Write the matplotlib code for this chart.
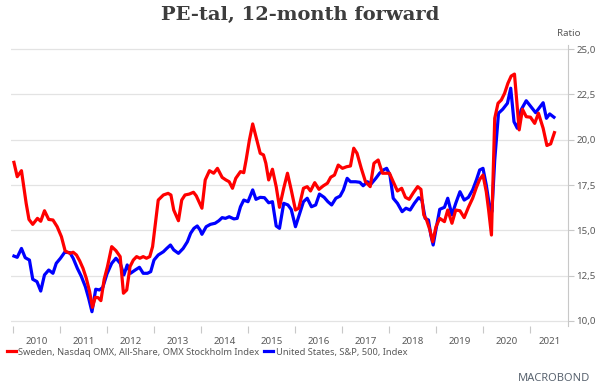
"""
PE-tal, 12-month forward: Sweden (OMX Stockholm) vs United States (S&P 500).
Values read off a Macrobond chart, dates as decimal years.
"""

import matplotlib
matplotlib.use("Agg")
import matplotlib.pyplot as plt
from matplotlib.ticker import FixedLocator, FuncFormatter

TITLE = "PE-tal, 12-month forward"
UNIT = "Ratio"
SWEDEN_LABEL = "Sweden, Nasdaq OMX, All-Share, OMX Stockholm Index"
US_LABEL = "United States, S&P, 500, Index"

sweden_dates = [
    2010.01, 2010.08, 2010.17, 2010.22, 2010.27, 2010.33, 2010.41, 2010.51, 2010.58, 2010.66,
    2010.75, 2010.84, 2010.93, 2011.02, 2011.10, 2011.20, 2011.27, 2011.34, 2011.41, 2011.48,
    2011.55, 2011.62, 2011.68, 2011.74, 2011.80, 2011.86, 2011.93, 2012.00, 2012.09, 2012.18,
    2012.27, 2012.34, 2012.41, 2012.48, 2012.55, 2012.62, 2012.69, 2012.76, 2012.83, 2012.90,
    2012.96, 2013.03, 2013.08, 2013.19, 2013.29, 2013.35, 2013.41, 2013.51, 2013.58, 2013.65,
    2013.74, 2013.83, 2013.89, 2014.01, 2014.08, 2014.17, 2014.26, 2014.34, 2014.44, 2014.52,
    2014.59, 2014.66, 2014.73, 2014.83, 2014.90, 2014.95, 2015.02, 2015.09, 2015.16, 2015.25,
    2015.32, 2015.37, 2015.43, 2015.51, 2015.59, 2015.66, 2015.75, 2015.83, 2015.91, 2016.00,
    2016.07, 2016.17, 2016.25, 2016.32, 2016.41, 2016.50, 2016.59, 2016.68, 2016.75, 2016.83,
    2016.91, 2017.00, 2017.09, 2017.17, 2017.24, 2017.31, 2017.40, 2017.49, 2017.59, 2017.67,
    2017.76, 2017.85, 2017.91, 2018.00, 2018.08, 2018.17, 2018.26, 2018.34, 2018.42, 2018.51,
    2018.60, 2018.67, 2018.73, 2018.79, 2018.86, 2018.92, 2018.99, 2019.07, 2019.17, 2019.24,
    2019.33, 2019.41, 2019.50, 2019.59, 2019.68, 2019.77, 2019.85, 2019.92, 2019.99, 2020.06,
    2020.11, 2020.17, 2020.24, 2020.31, 2020.38, 2020.45, 2020.52, 2020.59, 2020.66, 2020.76,
    2020.83, 2020.91, 2021.00, 2021.09, 2021.17, 2021.27, 2021.35, 2021.43, 2021.51,
]
sweden_pe = [
    18.75, 17.96, 18.29, 17.41, 16.49, 15.60, 15.33, 15.66, 15.50, 16.08,
    15.60, 15.57, 15.20, 14.65, 13.86, 13.73, 13.79, 13.64, 13.31, 12.90,
    12.35, 11.62, 10.75, 11.30, 11.29, 11.12, 12.30, 13.00, 14.10, 13.88,
    13.55, 11.53, 11.71, 13.00, 13.36, 13.55, 13.46, 13.55, 13.46, 13.55,
    14.10, 15.57, 16.67, 16.95, 17.04, 16.95, 16.12, 15.53, 16.67, 16.95,
    17.00, 17.10, 16.90, 16.22, 17.78, 18.29, 18.15, 18.42, 17.92, 17.78,
    17.68, 17.32, 17.87, 18.24, 18.18, 18.88, 19.98, 20.87, 20.17, 19.25,
    19.16, 18.70, 17.78, 18.37, 17.41, 16.27, 17.32, 18.15, 17.23, 16.12,
    16.22, 17.32, 17.41, 17.17, 17.63, 17.26, 17.45, 17.60, 17.93, 18.05,
    18.60, 18.42, 18.51, 18.55, 19.53, 19.25, 18.42, 17.68, 17.41, 18.70,
    18.88, 18.15, 18.15, 18.15, 17.68, 17.17, 17.32, 16.82, 16.71, 17.08,
    17.41, 17.26, 15.85, 15.57, 15.02, 14.37, 15.20, 15.66, 15.48, 16.12,
    15.39, 16.12, 16.08, 15.70, 16.27, 16.77, 17.37, 17.81, 18.05, 17.13,
    16.12, 14.74, 21.18, 22.01, 22.19, 22.56, 23.11, 23.51, 23.62, 20.54,
    21.68, 21.27, 21.24, 20.90, 21.46, 20.63, 19.68, 19.77, 20.39,
]

us_dates = [
    2010.01, 2010.08, 2010.17, 2010.25, 2010.34, 2010.41, 2010.50, 2010.58, 2010.66, 2010.75,
    2010.84, 2010.91, 2011.00, 2011.09, 2011.20, 2011.27, 2011.36, 2011.44, 2011.53, 2011.60,
    2011.67, 2011.75, 2011.83, 2011.90, 2011.99, 2012.09, 2012.18, 2012.27, 2012.35, 2012.42,
    2012.49, 2012.59, 2012.68, 2012.76, 2012.85, 2012.92, 2012.99, 2013.08, 2013.19, 2013.26,
    2013.34, 2013.41, 2013.51, 2013.61, 2013.70, 2013.77, 2013.84, 2013.91, 2013.97, 2014.01,
    2014.10, 2014.19, 2014.29, 2014.37, 2014.44, 2014.51, 2014.59, 2014.69, 2014.76, 2014.83,
    2014.90, 2014.99, 2015.09, 2015.16, 2015.25, 2015.34, 2015.43, 2015.51, 2015.59, 2015.66,
    2015.75, 2015.84, 2015.91, 2016.00, 2016.09, 2016.17, 2016.25, 2016.34, 2016.43, 2016.51,
    2016.61, 2016.69, 2016.77, 2016.86, 2016.95, 2017.02, 2017.10, 2017.17, 2017.28, 2017.37,
    2017.44, 2017.53, 2017.61, 2017.71, 2017.79, 2017.87, 2017.94, 2018.01, 2018.08, 2018.17,
    2018.27, 2018.35, 2018.44, 2018.53, 2018.62, 2018.69, 2018.76, 2018.83, 2018.88, 2018.93,
    2019.00, 2019.07, 2019.17, 2019.24, 2019.33, 2019.41, 2019.50, 2019.59, 2019.68, 2019.77,
    2019.85, 2019.92, 2019.99, 2020.06, 2020.13, 2020.18, 2020.24, 2020.32, 2020.41, 2020.51,
    2020.58, 2020.65, 2020.72, 2020.80, 2020.91, 2021.02, 2021.11, 2021.18, 2021.27, 2021.34,
    2021.41, 2021.50,
]
us_pe = [
    13.58, 13.51, 14.00, 13.49, 13.36, 12.30, 12.17, 11.65, 12.54, 12.81,
    12.63, 13.18, 13.46, 13.79, 13.77, 13.46, 12.90, 12.48, 11.89, 11.25,
    10.51, 11.75, 11.71, 11.85, 12.60, 13.18, 13.46, 13.18, 12.54, 13.09,
    12.63, 12.81, 12.96, 12.63, 12.63, 12.72, 13.36, 13.64, 13.82, 14.00,
    14.19, 13.92, 13.73, 14.00, 14.37, 14.84, 15.11, 15.24, 15.02, 14.78,
    15.20, 15.33, 15.39, 15.53, 15.70, 15.66, 15.75, 15.63, 15.66, 16.30,
    16.67, 16.58, 17.23, 16.71, 16.82, 16.80, 16.52, 16.58, 15.24, 15.11,
    16.49, 16.40, 16.15, 15.20, 15.94, 16.58, 16.77, 16.30, 16.40, 17.00,
    16.82, 16.58, 16.40, 16.77, 16.89, 17.23, 17.87, 17.68, 17.68, 17.65,
    17.46, 17.68, 17.56, 17.87, 18.15, 18.33, 18.42, 18.05, 16.77, 16.49,
    16.03, 16.22, 16.12, 16.49, 16.80, 16.67, 15.66, 15.57, 14.74, 14.19,
    15.20, 16.16, 16.27, 16.77, 15.85, 16.49, 17.13, 16.67, 16.82, 17.23,
    17.78, 18.33, 18.42, 17.50, 16.30, 16.03, 18.88, 21.46, 21.68, 22.01,
    22.84, 20.99, 20.63, 21.64, 22.15, 21.79, 21.49, 21.73, 22.04, 21.18,
    21.42, 21.24,
]

years = list(range(2010, 2022))
y_ticks = [10.0, 12.5, 15.0, 17.5, 20.0, 22.5, 25.0]

TEXT_GREY = "#595959"
GRID_GREY = "#e3e3e3"
FONT = ["Noto Sans", "DejaVu Sans"]


def main():
    plt.rcParams["font.family"] = FONT

    fig = plt.figure(figsize=(6.0, 3.9), dpi=100)
    ax = fig.add_axes([0.0183, 0.164, 0.9283, 0.7195])

    # blue first, red drawn on top
    ax.plot(us_dates, us_pe, color="#0000ff", lw=2.3, label=US_LABEL,
            solid_joinstyle="round", zorder=3)
    ax.plot(sweden_dates, sweden_pe, color="#ff0000", lw=2.3, label=SWEDEN_LABEL,
            solid_joinstyle="round", zorder=4)

    x_min, x_max = 2009.947, 2021.798
    ax.set_xlim(x_min, x_max)
    ax.set_ylim(9.72, 25.2)

    # ---------------- y axis on the right ----------------
    ax.yaxis.tick_right()
    ax.set_yticks(y_ticks)
    ax.yaxis.set_major_formatter(FuncFormatter(lambda v, _: f"{v:.1f}".replace(".", ",")))
    ax.tick_params(axis="y", which="major", direction="out", length=4, width=0.8,
                   color="#c8c8c8", labelcolor=TEXT_GREY, labelsize=7, pad=2)
    ax.grid(axis="y", color=GRID_GREY, lw=0.9)
    ax.set_axisbelow(True)

    # ---------------- x axis: ticks on year starts, labels mid-year ----------------
    ax.xaxis.set_major_locator(FixedLocator(years))
    ax.xaxis.set_major_formatter(FuncFormatter(lambda v, _: ""))
    mids = [y + 0.5 for y in years[:-1]] + [(years[-1] + x_max) / 2]
    ax.xaxis.set_minor_locator(FixedLocator(mids))
    ax.xaxis.set_minor_formatter(FuncFormatter(lambda v, i: str(years[i])))
    ax.tick_params(axis="x", which="major", direction="out", length=5, width=0.8,
                   color="#c8c8c8")
    ax.tick_params(axis="x", which="minor", length=0, labelcolor=TEXT_GREY,
                   labelsize=7, pad=8)

    for side in ["top", "left", "bottom"]:
        ax.spines[side].set_visible(False)
    ax.spines["right"].set_color("#c8c8c8")
    ax.spines["right"].set_linewidth(0.8)

    # ---------------- texts ----------------
    fig.text(0.5, 0.962, TITLE, ha="center", va="center", fontsize=14,
             fontweight="bold", color="#3d3d3d", family=["DejaVu Serif"])
    fig.text(0.948, 0.915, UNIT, ha="center", va="center", fontsize=7,
             color=TEXT_GREY)

    handles, labels = ax.get_legend_handles_labels()
    ax.legend(handles[::-1], labels[::-1], ncol=2, loc="center left",
              bbox_to_anchor=(0.008, 0.097), bbox_transform=fig.transFigure,
              frameon=False, fontsize=6.7, handlelength=1.0, handletextpad=0.25,
              columnspacing=0.5, borderaxespad=0, borderpad=0.2, labelcolor=TEXT_GREY)

    fig.text(0.983, 0.03, "MACROBOND", ha="right", va="center", fontsize=8,
             color="#5a6470")

    fig.savefig("out.png", dpi=100)
    plt.close(fig)


if __name__ == "__main__":
    main()
